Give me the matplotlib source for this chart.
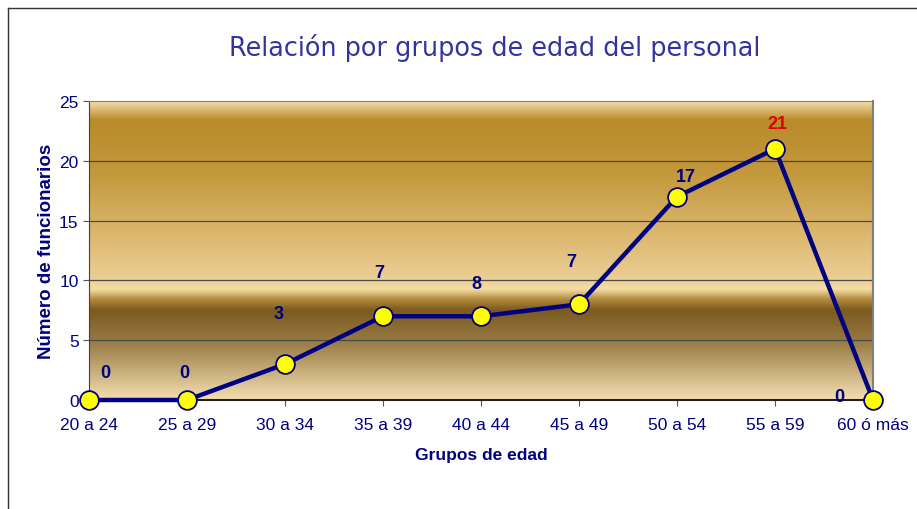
import numpy as np
import matplotlib.pyplot as plt
from matplotlib.colors import LinearSegmentedColormap

# datos del grafico
grupos = ["20 a 24", "25 a 29", "30 a 34", "35 a 39", "40 a 44",
          "45 a 49", "50 a 54", "55 a 59", "60 ó más"]
funcionarios = [0, 0, 3, 7, 7, 8, 17, 21, 0]
etiquetas = ["0", "0", "3", "7", "8", "7", "17", "21", "0"]

# desplazamiento de las etiquetas (x en categorias, y en unidades)
dx_etq = [0.17, -0.03, -0.06, -0.04, -0.05, -0.08, 0.09, 0.02, -0.34]
dy_etq = [2.3, 2.3, 4.2, 3.7, 2.7, 3.6, 1.7, 2.1, 0.3]
color_etq = ["#000080"] * 7 + ["#e00000", "#000080"]

navy = "#000080"
fuente = ["Liberation Sans", "DejaVu Sans"]

fig = plt.figure(figsize=(9.17, 5.1), dpi=100)
ax = fig.add_axes([89 / 917, 1 - 401 / 510, (873 - 89) / 917, (401 - 102) / 510])

# fondo degradado dorado
pos = [0.0, 0.06, 0.25, 0.45, 0.60, 0.63, 0.665, 0.70, 0.80, 1.0]
cols = ["#f3dca5", "#b98b2a", "#c49a3e", "#dcb870", "#eccf94",
        "#f5dca6", "#b08a3a", "#7c5a20", "#957840", "#f3ddb0"]
cmap = LinearSegmentedColormap.from_list("oro", list(zip(pos, cols)))
grad = np.linspace(0, 1, 400).reshape(-1, 1)
ax.imshow(grad, cmap=cmap, aspect="auto", extent=[0, 8, 0, 25],
          origin="upper", zorder=0)

x = np.arange(len(grupos))
ax.plot(x, funcionarios, color=navy, lw=3.2, marker="o", ms=13.5,
        mfc="#ffff00", mec=navy, mew=1.3, zorder=5, clip_on=False)

for i in range(len(grupos)):
    ax.text(x[i] + dx_etq[i], funcionarios[i] + dy_etq[i], etiquetas[i],
            ha="center", va="center", fontsize=13, fontweight="bold",
            color=color_etq[i], zorder=6, family=fuente)

ax.set_xlim(0, 8)
ax.set_ylim(0, 25)
ax.set_yticks([0, 5, 10, 15, 20, 25])
ax.set_xticks(x)
ax.set_xticklabels(grupos)
ax.tick_params(axis="both", colors=navy, labelsize=12.5, length=4,
               direction="out")
ax.tick_params(axis="both", color="#555555")
ax.tick_params(axis="x", pad=8)
for lab in ax.get_xticklabels() + ax.get_yticklabels():
    lab.set_family(fuente)
for yv in [5, 10, 15, 20]:
    ax.axhline(yv, color="#4a4a4a", lw=0.9, zorder=1)

ax.spines["left"].set_color("#404040")
ax.spines["bottom"].set_color("#202020")
ax.spines["bottom"].set_linewidth(1.5)
ax.spines["top"].set_color("#808080")
ax.spines["right"].set_color("#808080")
ax.spines["right"].set_linewidth(1.5)

ax.set_xlabel("Grupos de edad", color=navy, fontsize=12.5, fontweight="bold",
              family=fuente, labelpad=11)
ax.set_ylabel("Número de funcionarios", color=navy, fontsize=13.5,
              fontweight="bold", family=fuente, labelpad=3)

fig.text(495 / 917, 1 - 48 / 510, "Relación por grupos de edad del personal",
         ha="center", va="center", fontsize=18.4, color="#3333a0",
         family=["DejaVu Sans"])

# marco exterior
fig.add_artist(plt.Line2D([8 / 917, 1], [1 - 9 / 510, 1 - 9 / 510],
                          color="#333333", lw=1))
fig.add_artist(plt.Line2D([8 / 917, 8 / 917], [0, 1 - 9 / 510],
                          color="#333333", lw=1))

fig.savefig("out.png", dpi=100)
